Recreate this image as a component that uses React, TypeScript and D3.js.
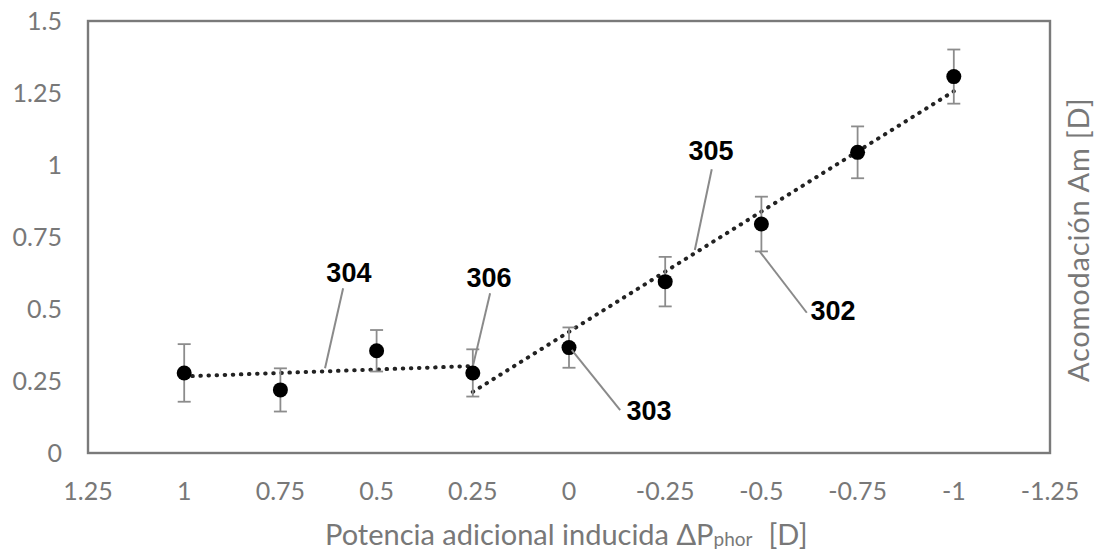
import React from 'react'
import * as d3 from 'd3'

// measured points: x = potencia adicional, y = acomodacion, err = half error bar
const xValues = [1, 0.75, 0.5, 0.25, 0, -0.25, -0.5, -0.75, -1]
const yValues = [0.278, 0.219, 0.355, 0.278, 0.366, 0.595, 0.795, 1.044, 1.307]
const errValues = [0.1, 0.075, 0.072, 0.082, 0.07, 0.086, 0.095, 0.09, 0.094]

// dotted trend lines, end points
const trend304 = [
  { x: 1, y: 0.266 },
  { x: 0.25, y: 0.302 },
]
const trend305 = [
  { x: 0.25, y: 0.212 },
  { x: -1, y: 1.256 },
]

const xTicks = [1.25, 1, 0.75, 0.5, 0.25, 0, -0.25, -0.5, -0.75, -1, -1.25]
const xTickLabels = ['1.25', '1', '0.75', '0.5', '0.25', '0', '-0.25', '-0.5', '-0.75', '-1', '-1.25']
const yTicks = [0, 0.25, 0.5, 0.75, 1, 1.25, 1.5]
const yTickLabels = ['0', '0.25', '0.5', '0.75', '1', '1.25', '1.5']

// reference numerals: label position + leader line (data units)
const callouts = [
  { label: '304', lx: 0.572, ly: 0.594, x1: 0.587, y1: 0.572, x2: 0.634, y2: 0.294 },
  { label: '306', lx: 0.208, ly: 0.577, x1: 0.205, y1: 0.555, x2: 0.249, y2: 0.306 },
  { label: '305', lx: -0.369, ly: 1.017, x1: -0.371, y1: 0.985, x2: -0.327, y2: 0.705 },
  { label: '302', lx: -0.686, ly: 0.462, x1: -0.618, y1: 0.487, x2: -0.496, y2: 0.699 },
  { label: '303', lx: -0.208, ly: 0.115, x1: -0.133, y1: 0.149, x2: -0.007, y2: 0.358 },
]

const width = 1097
const height = 558
const margin = { top: 21, right: 47, bottom: 105, left: 88 }
const axisGrey = '#787878'
const font = 'Lato, "Open Sans", sans-serif'

export default function App() {
  const x = d3
    .scaleLinear()
    .domain([1.25, -1.25])
    .range([margin.left, width - margin.right])
  const y = d3
    .scaleLinear()
    .domain([0, 1.5])
    .range([height - margin.bottom, margin.top])

  const line = d3
    .line<{ x: number; y: number }>()
    .x((d) => x(d.x))
    .y((d) => y(d.y))

  const points = xValues.map((v, i) => ({ x: v, y: yValues[i], err: errValues[i] }))
  const plotBottom = y(0)

  return (
    <svg
      width={width}
      height={height}
      style={{ position: 'absolute', left: 0, top: 0, background: '#fff' }}
    >
      <rect x={0} y={0} width={width} height={height} fill="#fff" />

      {/* y tick labels */}
      {yTicks.map((t, i) => (
        <text
          key={'y' + t}
          x={margin.left - 26}
          y={y(t)}
          dy="0.36em"
          textAnchor="end"
          fontFamily={font}
          fontSize={25}
          fill={axisGrey}
        >
          {yTickLabels[i]}
        </text>
      ))}

      {/* x tick labels */}
      {xTicks.map((t, i) => (
        <text
          key={'x' + t}
          x={x(t)}
          y={plotBottom + 47}
          textAnchor="middle"
          fontFamily={font}
          fontSize={25}
          fill={axisGrey}
        >
          {xTickLabels[i]}
        </text>
      ))}

      {/* plot frame */}
      <rect
        x={x(1.25)}
        y={y(1.5)}
        width={x(-1.25) - x(1.25)}
        height={y(0) - y(1.5)}
        fill="none"
        stroke="#7a7a7a"
        strokeWidth={2.4}
      />

      {/* trend lines */}
      {[trend304, trend305].map((t, i) => (
        <path
          key={'t' + i}
          d={line(t) || ''}
          fill="none"
          stroke="#222"
          strokeWidth={4}
          strokeLinecap="round"
          strokeDasharray="0.5 7.6"
        />
      ))}

      {/* error bars */}
      {points.map((p) => (
        <g key={'e' + p.x} stroke="#8c8c8c" strokeWidth={1.8}>
          <line x1={x(p.x)} x2={x(p.x)} y1={y(p.y + p.err)} y2={y(p.y - p.err)} />
          <line x1={x(p.x) - 6.5} x2={x(p.x) + 6.5} y1={y(p.y + p.err)} y2={y(p.y + p.err)} />
          <line x1={x(p.x) - 6.5} x2={x(p.x) + 6.5} y1={y(p.y - p.err)} y2={y(p.y - p.err)} />
        </g>
      ))}

      {/* markers */}
      {points.map((p) => (
        <circle key={'c' + p.x} cx={x(p.x)} cy={y(p.y)} r={7.5} fill="#000" />
      ))}

      {/* callouts */}
      {callouts.map((c) => (
        <g key={c.label}>
          <line
            x1={x(c.x1)}
            y1={y(c.y1)}
            x2={x(c.x2)}
            y2={y(c.y2)}
            stroke="#8a8a8a"
            strokeWidth={2}
          />
          <text
            x={x(c.lx)}
            y={y(c.ly)}
            textAnchor="middle"
            fontFamily='"Liberation Sans", Arial, sans-serif'
            fontWeight="bold"
            fontSize={27}
            fill="#000"
          >
            {c.label}
          </text>
        </g>
      ))}

      {/* x axis title */}
      <text
        x={x(0) - 244}
        y={plotBottom + 92}
        textAnchor="start"
        fontFamily={font}
        fontSize={29}
        fill={axisGrey}
      >
        Potencia adicional inducida ΔP
        <tspan fontSize={19} dy={1}>phor</tspan>
        <tspan dy={-1} dx={16}>[D]</tspan>
      </text>

      {/* y axis title, on the right */}
      <text
        transform={`translate(${width - 8},${y(0.74)}) rotate(-90)`}
        textAnchor="middle"
        fontFamily={font}
        fontSize={29}
        letterSpacing={0.8}
        fill={axisGrey}
      >
        Acomodación Am [D]
      </text>
    </svg>
  )
}
